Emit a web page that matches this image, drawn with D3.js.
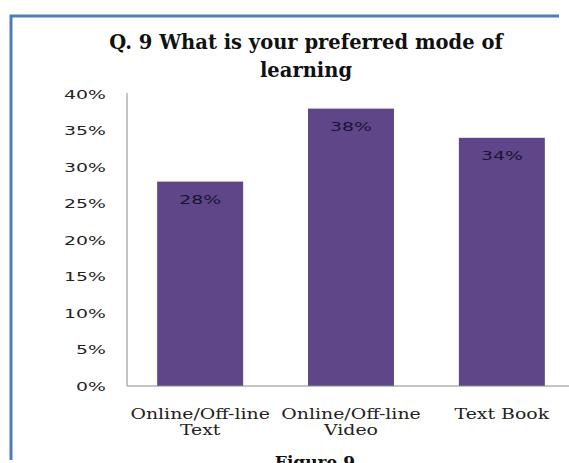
<!DOCTYPE html>
<html>
<head>
<meta charset="utf-8">
<script src="https://cdn.jsdelivr.net/npm/d3@7"></script>
<style>
  body { margin: 0; background: #fff; }
  svg { display: block; }
</style>
</head>
<body>
<svg id="chart"></svg>
<script>
// data
var categories = ["Online/Off-line Text", "Online/Off-line Video", "Text Book"];
var catLines = [["Online/Off-line", "Text"], ["Online/Off-line", "Video"], ["Text Book"]];
var values = [0.28, 0.38, 0.34];
var yTicks = [0, 0.05, 0.10, 0.15, 0.20, 0.25, 0.30, 0.35, 0.40];
var titleLines = ["Q. 9 What is your preferred mode of", "learning"];

var screen = { width: 569, height: 463 };

var svg = d3.select("#chart")
            .attr("width", screen.width)
            .attr("height", screen.height);

// blue frame (top + left only visible)
svg.append("path")
   .attr("d", "M11,460 L11,16 L559,16")
   .attr("fill", "none")
   .attr("stroke", "#4f7db6")
   .attr("stroke-width", 3);

var x = d3.scaleBand()
          .domain(categories)
          .range([127, 575])
          .paddingInner(0.43)
          .paddingOuter(0.2);

var y = d3.scaleLinear()
          .domain([0, 0.4])
          .range([386, 94]);

// title
svg.append("text")
   .attr("x", 306)
   .attr("y", 49)
   .attr("text-anchor", "middle")
   .style("font-family", "DejaVu Serif")
   .style("font-weight", "bold")
   .style("font-size", "19.5px")
   .attr("fill", "#111")
   .selectAll("tspan")
   .data(titleLines)
   .enter()
   .append("tspan")
   .attr("x", 306)
   .attr("dy", function(d, i) { return i == 0 ? 0 : 28; })
   .text(function(d) { return d; });

// bars
svg.append("g")
   .selectAll("rect")
   .data(values)
   .enter()
   .append("rect")
   .attr("x", function(d, i) { return x(categories[i]); })
   .attr("y", function(d) { return y(d); })
   .attr("width", x.bandwidth())
   .attr("height", function(d) { return y(0) - y(d); })
   .attr("fill", "#5e4689");

// value labels inside bars
var sx = 1.45;
svg.append("g")
   .selectAll("text")
   .data(values)
   .enter()
   .append("text")
   .attr("transform", function(d, i) {
     return "translate(" + (x(categories[i]) + x.bandwidth() / 2) + "," + (y(d) + 22) + ") scale(" + sx + ",1)";
   })
   .attr("text-anchor", "middle")
   .style("font-family", "DejaVu Sans")
   .style("font-size", "13px")
   .attr("fill", "#1a1433")
   .text(function(d) { return Math.round(d * 100) + "%"; });

// y axis
var yAxis = svg.append("g")
   .attr("transform", "translate(127,0)")
   .call(d3.axisLeft(y).tickValues(yTicks).tickSize(0).tickPadding(0)
           .tickFormat(function(d) { return Math.round(d * 100) + "%"; }));

yAxis.select(".domain")
     .attr("stroke", "#8a8a8a")
     .attr("d", "M0," + (y(0.4) - 1) + "V" + y(0));

yAxis.selectAll("text")
     .attr("x", -21 / sx)
     .attr("transform", "scale(" + sx + ",1)")
     .style("font-family", "DejaVu Sans")
     .style("font-size", "13px")
     .attr("fill", "#222");

// x axis baseline
svg.append("line")
   .attr("x1", 127)
   .attr("x2", 569)
   .attr("y1", y(0))
   .attr("y2", y(0))
   .attr("stroke", "#8a8a8a");

// category labels
var sxc = 1.35;
var xl = svg.append("g")
   .selectAll("text")
   .data(catLines)
   .enter()
   .append("text")
   .attr("transform", function(d, i) {
     return "translate(" + (x(categories[i]) + x.bandwidth() / 2) + ",419) scale(" + sxc + ",1)";
   })
   .attr("text-anchor", "middle")
   .style("font-family", "DejaVu Serif")
   .style("font-size", "14px")
   .attr("fill", "#222");

xl.selectAll("tspan")
  .data(function(d) { return d; })
  .enter()
  .append("tspan")
  .attr("x", 0)
  .attr("dy", function(d, i) { return i == 0 ? 0 : 16; })
  .text(function(d) { return d; });

// caption, cut off at the bottom as in the source
svg.append("text")
   .attr("x", 315)
   .attr("y", 468)
   .attr("text-anchor", "middle")
   .style("font-family", "DejaVu Serif")
   .style("font-weight", "bold")
   .style("font-size", "17px")
   .attr("fill", "#111")
   .text("Figure 9");
</script>
</body>
</html>
